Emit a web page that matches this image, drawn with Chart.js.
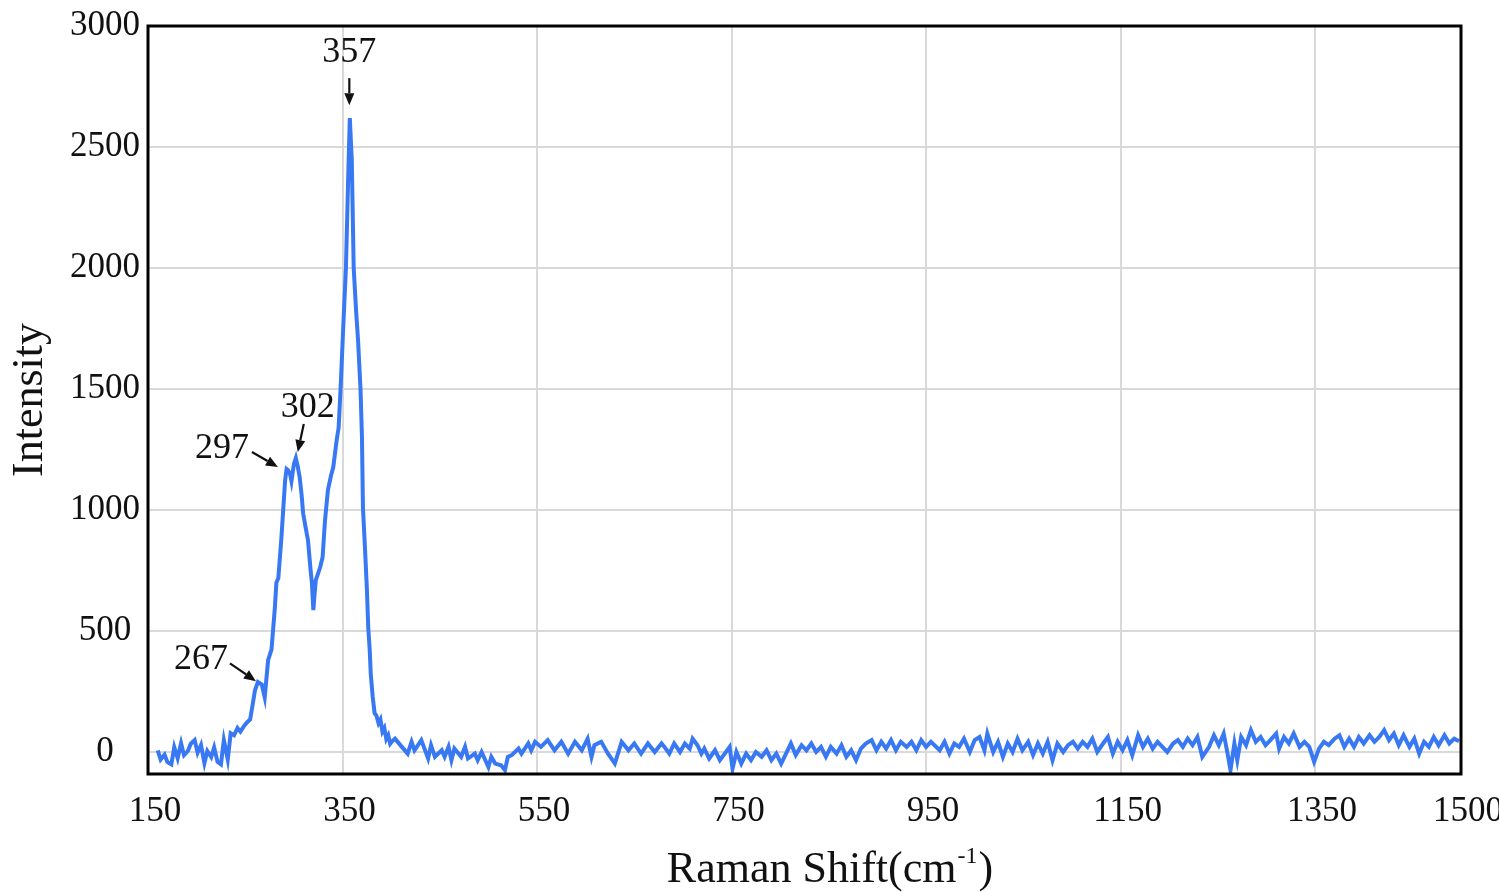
<!DOCTYPE html>
<html>
<head>
<meta charset="utf-8">
<script src="https://cdn.jsdelivr.net/npm/chart.js@4.4.1/dist/chart.umd.min.js"></script>
<style>
html,body{margin:0;padding:0;background:#ffffff;}
#wrap{width:1499px;height:892px;position:relative;}
</style>
</head>
<body>
<div id="wrap"><canvas id="c"></canvas></div>
<script>
// ---- Data ----
const lowShift = [160,163,167,170,174,177,180.5,184,187,191,194,198,201,204.5,208,211,215,218,221.5,225,228,232,235,238.5,242,245,249,252,255,257.5,260,263,267,270,273.5,277,280.5,282,284,287,289,291,292.5,294,296,297.5,300,302,304,306,308,309.5,312,314.5,317,318.5,320,321,322.5,325,327,329.5,332,335,338,340.5,344,346,348,351,353.5,356,357.5,359.5,361.5,364,366,368.5,370,371,373,375,376.5,378,379,381,383,385,387,389,391,393,395,397,399,401];
const lowIntensity = [8,-30,-10,-41,-50,21,-25,37,-12,5,35,50,-2,30,-45,5,-20,20,-40,-50,50,-30,78,70,100,85,110,124,135,194,256,290,280,227,380,425,600,700,720,876,1000,1124,1170,1165,1150,1120,1190,1215,1180,1135,1060,987,930,876,760,700,587,640,710,740,764,805,958,1083,1140,1178,1290,1340,1500,1780,2000,2400,2620,2450,2000,1820,1700,1500,1300,1012,850,680,512,420,326,230,161,150,120,135,85,100,55,70,35,45];

const baseShift = [404,411,417,421,424,431,438,441,445,452,455,459,462,465,472,476,479,486,489,493,500,503,507,513,517,520,524,531,534,541,544,548,554,561,568,575,582,589,596,602,606,609,616,623,630,637,644,650,657,664,671,678,681,686,691,697,702,707,710,715,719,722,727,733,738,743,748,751,755,760,765,770,775,781,786,791,796,801,806,811,816,822,827,832,837,842,847,852,858,863,868,873,878,883,888,894,899,904,909,914,919,924,930,935,940,945,950,955,964,969,974,979,984,989,995,1000,1005,1010,1013,1019,1024,1029,1034,1039,1044,1049,1055,1060,1065,1070,1075,1080,1085,1091,1096,1101,1106,1111,1116,1121,1126,1132,1137,1142,1147,1152,1157,1162,1168,1173,1178,1183,1188,1193,1198,1204,1209,1214,1219,1224,1229,1234,1241,1246,1251,1256,1260,1263,1267,1270,1274,1279,1284,1289,1294,1299,1304,1310,1313,1318,1323,1328,1334,1339,1344,1349,1354,1359,1364,1370,1375,1380,1385,1390,1395,1400,1406,1411,1416,1421,1426,1431,1436,1441,1447,1452,1457,1462,1467,1472,1477,1483,1488,1493,1498];
const baseIntensity = [56,22,-6,43,8,50,-26,29,-19,8,-19,22,-33,15,-19,22,-26,-6,-33,1,-61,-19,-47,-54,-74,-19,-12,15,-6,36,8,43,22,50,8,43,-6,43,8,56,-19,29,43,-6,-47,43,8,36,-6,36,1,36,22,-6,36,1,36,15,56,29,-6,15,-26,8,-33,-6,22,-68,1,-47,-6,-33,1,-19,8,-33,-6,-47,-6,36,-12,29,8,36,1,22,-19,22,-6,29,-19,8,-33,15,36,50,8,43,15,50,8,43,22,43,8,50,22,43,8,43,-6,36,22,56,1,50,63,8,77,1,43,-19,36,1,56,8,43,-12,36,-6,43,-33,36,1,29,43,15,43,22,56,1,36,63,-6,43,8,50,-12,70,22,56,15,43,22,1,36,50,22,56,29,63,-19,22,70,29,77,-6,-74,36,-33,63,29,91,43,63,29,50,77,15,63,36,77,22,43,22,-40,15,43,29,56,70,22,56,22,63,36,70,43,63,91,50,77,29,70,22,56,-6,43,22,63,29,70,36,56,45];

const xTickValues = [150,350,550,750,950,1150,1350,1500];
const yTickValues = [0,500,1000,1500,2000,2500,3000];

const peakLabels = ['357','302','297','267'];
const peakTipShift = [357, 304, 283.6, 261];
const peakTipIntensity = [2673, 1240, 1178, 293];

const xTitleMain = 'Raman Shift(cm';
const xTitleSup = '-1';
const xTitleEnd = ')';
const yTitle = 'Intensity';

// ---- styling (pixels) ----
const SERIF = "'Liberation Serif', 'Times New Roman', serif";
const annoTail = [[0,-27],[6,-28],[-26,-15],[-26,-18]];
const annoText = [[0,-53],[10,-44],[-56,-19],[-55,-22]];

const points = [];
lowShift.forEach((x,i)=>points.push({x:x, y:lowIntensity[i]}));
baseShift.forEach((x,i)=>points.push({x:x, y:baseIntensity[i]}));

const decorPlugin = {
  id: 'decor',
  afterDatasetsDraw(chart) {
    const ctx = chart.ctx;
    const xs = chart.scales.x, ys = chart.scales.y;
    const a = chart.chartArea;
    ctx.save();
    // frame
    ctx.strokeStyle = '#000';
    ctx.lineWidth = 3;
    ctx.strokeRect(a.left, a.top, a.right - a.left, a.bottom - a.top);
    // annotations
    ctx.fillStyle = '#111';
    ctx.strokeStyle = '#111';
    ctx.font = '36px ' + SERIF;
    ctx.textAlign = 'center';
    ctx.textBaseline = 'middle';
    peakLabels.forEach((lab, i) => {
      const tx = xs.getPixelForValue(peakTipShift[i]);
      const ty = ys.getPixelForValue(peakTipIntensity[i]);
      const sx = tx + annoTail[i][0], sy = ty + annoTail[i][1];
      const ang = Math.atan2(ty - sy, tx - sx);
      const head = 12, hw = 5;
      const bx = tx - head * Math.cos(ang), by = ty - head * Math.sin(ang);
      ctx.lineWidth = 2.2;
      ctx.beginPath();
      ctx.moveTo(sx, sy);
      ctx.lineTo(bx, by);
      ctx.stroke();
      ctx.beginPath();
      ctx.moveTo(tx, ty);
      ctx.lineTo(bx + hw * Math.sin(ang), by - hw * Math.cos(ang));
      ctx.lineTo(bx - hw * Math.sin(ang), by + hw * Math.cos(ang));
      ctx.closePath();
      ctx.fill();
      ctx.fillText(lab, tx + annoText[i][0], ty + annoText[i][1]);
    });
    // x title with superscript
    const mainFont = '44px ' + SERIF, supFont = '24px ' + SERIF;
    ctx.font = mainFont;
    const w1 = ctx.measureText(xTitleMain).width;
    const w3 = ctx.measureText(xTitleEnd).width;
    ctx.font = supFont;
    const w2 = ctx.measureText(xTitleSup).width;
    const total = w1 + w2 + w3;
    const cx = 829;
    const cy = 868;
    let x0 = cx - total / 2;
    ctx.textAlign = 'left';
    ctx.textBaseline = 'alphabetic';
    const base = cy + 14;
    ctx.font = mainFont;
    ctx.fillText(xTitleMain, x0, base);
    ctx.font = supFont;
    ctx.fillText(xTitleSup, x0 + w1 + 1, base - 19);
    ctx.font = mainFont;
    ctx.fillText(xTitleEnd, x0 + w1 + w2 + 2, base);
    ctx.restore();
  }
};

new Chart(document.getElementById('c'), {
  type: 'scatter',
  data: {
    datasets: [{
      data: points,
      showLine: true,
      borderColor: '#3878f2',
      backgroundColor: '#3878f2',
      borderWidth: 4,
      pointRadius: 0,
      tension: 0,
      fill: false
    }]
  },
  options: {
    responsive: true,
    maintainAspectRatio: false,
    animation: false,
    devicePixelRatio: 1,
    layout: { padding: { left: 0, top: 26, right: 38, bottom: 0 } },
    plugins: { legend: { display: false }, tooltip: { enabled: false } },
    scales: {
      x: {
        type: 'linear',
        min: 150, max: 1500,
        afterBuildTicks: s => { s.ticks = xTickValues.map(v => ({ value: v })); },
        afterFit: s => { s.height = 118; s.paddingLeft = 0; s.paddingRight = 0; },
        grid: { color: '#d9d9d9', lineWidth: 2, drawTicks: false },
        border: { display: false },
        ticks: {
          font: { family: SERIF, size: 35 },
          color: '#111',
          padding: 17,
          labelOffset: 7,
          maxRotation: 0,
          autoSkip: false,
          callback: v => String(v)
        }
      },
      y: {
        type: 'linear',
        min: -90, max: 3000,
        afterBuildTicks: s => { s.ticks = yTickValues.map(v => ({ value: v })); },
        afterFit: s => { s.width = 148; s.paddingTop = 0; s.paddingBottom = 0; },
        grid: { color: '#d9d9d9', lineWidth: 2, drawTicks: false },
        border: { display: false },
        title: {
          display: true,
          text: yTitle,
          font: { family: SERIF, size: 44 },
          color: '#111',
          padding: { top: 4, bottom: 0 }
        },
        ticks: {
          font: { family: SERIF, size: 35 },
          color: '#111',
          padding: 8,
          crossAlign: 'center',
          callback: v => String(v)
        }
      }
    }
  },
  plugins: [decorPlugin]
});
</script>
</body>
</html>
